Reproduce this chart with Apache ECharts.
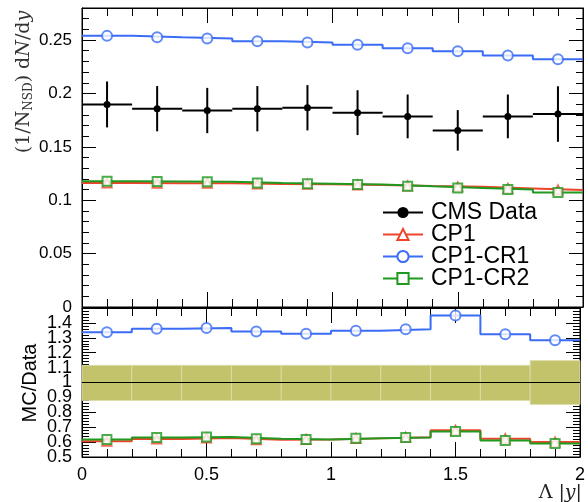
<!DOCTYPE html>
<html><head><meta charset="utf-8">
<script src="https://cdn.jsdelivr.net/npm/echarts@6/dist/echarts.min.js"></script>
<style>html,body{margin:0;padding:0;background:#fff}#c{width:588px;height:502px}</style>
</head><body><div id="c"></div>
<script>
// ---- data ----
const binEdges   = [0, 0.2, 0.4, 0.6, 0.8, 1.0, 1.2, 1.4, 1.6, 1.8, 2.0];
const binCentres = [0.1, 0.3, 0.5, 0.7, 0.9, 1.1, 1.3, 1.5, 1.7, 1.9];
const cmsData = [0.1897, 0.1857, 0.1840, 0.1857, 0.1866, 0.1820, 0.1785, 0.1654, 0.1785, 0.1807];
const cmsErr  = [0.0215, 0.0212, 0.0212, 0.0212, 0.0212, 0.0210, 0.0205, 0.0190, 0.0205, 0.0260];
const cp1     = [0.1162, 0.1160, 0.1160, 0.1152, 0.1150, 0.1143, 0.1133, 0.1125, 0.1110, 0.1095];
const cp1cr1  = [0.2539, 0.2526, 0.2514, 0.2489, 0.2477, 0.2455, 0.2424, 0.2396, 0.2355, 0.2320];
const cp1cr2  = [0.1178, 0.1175, 0.1172, 0.1162, 0.1155, 0.1147, 0.1130, 0.1115, 0.1100, 0.1072];
const ratioCp1 = [0.606, 0.620, 0.628, 0.615, 0.617, 0.625, 0.632, 0.680, 0.622, 0.600];
const ratioCr1 = [1.338, 1.360, 1.365, 1.343, 1.327, 1.347, 1.358, 1.450, 1.324, 1.284];
const ratioCr2 = [0.617, 0.631, 0.635, 0.622, 0.617, 0.626, 0.631, 0.671, 0.611, 0.590];
const bandUp  = [1.115, 1.115, 1.115, 1.115, 1.115, 1.115, 1.115, 1.115, 1.115, 1.147];
const bandLow = [0.880, 0.880, 0.880, 0.880, 0.880, 0.880, 0.880, 0.880, 0.880, 0.853];
const xTickLabels = ['0', '0.5', '1', '1.5', '2'];
const topYTickLabels = ['0', '0.05', '0.1', '0.15', '0.2', '0.25'];
const ratioYTickLabels = ['0.6','0.7','0.8','0.9','1','1.1','1.2','1.3','1.4'];
const ratioYMinLabel = ['0.5'];
const seriesNames = ['CMS Data', 'CP1', 'CP1-CR1', 'CP1-CR2'];

// ---- styling ----
const RED = '#f0442a', BLUE = '#3a6cf6', GREEN = '#1f991f', BLACK = '#000';
const FONT = 'Liberation Sans';
const LEGEND_ROW_CENTRES = [212, 234, 256, 278];

function steps(vals) {
  const pts = [];
  vals.forEach((v, i) => { pts.push([binEdges[i], v]); pts.push([binEdges[i + 1], v]); });
  return pts;
}
function centrePts(vals) { return binCentres.map((x, i) => [x, vals[i]]); }

const chart = echarts.init(document.getElementById('c'), null, {renderer: 'canvas'});

function xAxisDef(grid, pos, showLabel) {
  return {
    type: 'value', gridIndex: grid, position: pos, min: 0, max: 2, interval: 0.5,
    axisLine: {show: true, onZero: false, lineStyle: {color: BLACK, width: 1}},
    axisTick: {show: true, inside: true, length: 15, lineStyle: {color: BLACK}},
    minorTick: {show: true, splitNumber: 5, length: 8, lineStyle: {color: BLACK}},
    splitLine: {show: false},
    axisLabel: {show: showLabel, color: BLACK, fontFamily: FONT, fontSize: 18, margin: 9,
      showMinLabel: true, showMaxLabel: true,
      formatter: v => { const s = String(+v.toFixed(2)); return xTickLabels.includes(s) ? s : ''; }}
  };
}
function yAxisDef(grid, pos, min, max, interval, labels, showLabel, fs, minorN) {
  return {
    type: 'value', gridIndex: grid, position: pos, min: min, max: max, interval: interval,
    axisLine: {show: true, onZero: false, lineStyle: {color: BLACK, width: 1}},
    axisTick: {show: true, inside: true, length: 14, lineStyle: {color: BLACK}},
    minorTick: {show: true, splitNumber: minorN, length: 7, lineStyle: {color: BLACK}},
    splitLine: {show: false},
    axisLabel: {show: showLabel, color: BLACK, fontFamily: FONT, fontSize: fs, margin: 10,
      hideOverlap: false,
      formatter: v => { const s = String(+v.toFixed(2)); return labels.includes(s) ? s : ''; }}
  };
}
// an extra left axis that only carries the lowest ratio label
function labelOnlyAxis(grid, min, max, interval, labels, fs) {
  const a = yAxisDef(grid, 'left', min, max, interval, labels, true, fs, 5);
  a.axisLine = {show: false};
  a.axisTick = {show: false};
  a.minorTick = {show: false};
  a.axisLabel.showMinLabel = true;
  return a;
}

function stepSeries(name, vals, color, symbol, xi, yi) {
  return {type: 'line', name: name, data: steps(vals), xAxisIndex: xi, yAxisIndex: yi,
    symbol: symbol, showSymbol: false, symbolSize: 9, color: color,
    lineStyle: {color: color, width: 2}, itemStyle: {color: color}, silent: true, z: 3};
}
function markerSeries(vals, color, symbol, size, xi, yi) {
  return {type: 'scatter', name: '_m', data: centrePts(vals), xAxisIndex: xi, yAxisIndex: yi,
    symbol: symbol, symbolSize: size, itemStyle: {color: color, borderColor: color, borderWidth: 1.2},
    silent: true, z: 4};
}
function legendRow(i, extra) {
  return Object.assign({
    orient: 'vertical', left: 382, top: LEGEND_ROW_CENTRES[i] - 11, padding: 0,
    itemWidth: 40, itemHeight: 14, itemGap: 0, selectedMode: false,
    textStyle: {color: BLACK, fontFamily: FONT, fontSize: 23, lineHeight: 22, padding: [0, 0, 0, 3]},
    data: [{name: seriesNames[i]}]
  }, extra || {});
}

const errData = binCentres.map((c, i) => [binEdges[i], binEdges[i + 1], c, cmsData[i], cmsErr[i]]);
const bandData = binCentres.map((c, i) => [binEdges[i], binEdges[i + 1], bandLow[i], bandUp[i]]);

const option = {
  animation: false,
  backgroundColor: '#fff',
  grid: [
    {left: 82, right: 5, top: 8, height: 299, show: true, borderColor: BLACK, borderWidth: 1, backgroundColor: 'transparent'},
    {left: 82, right: 5, top: 308, bottom: 45, show: true, borderColor: BLACK, borderWidth: 1, backgroundColor: 'transparent'}
  ],
  xAxis: [
    xAxisDef(0, 'bottom', false),
    xAxisDef(0, 'top', false),
    xAxisDef(1, 'bottom', true),
    xAxisDef(1, 'top', false)
  ],
  yAxis: [
    yAxisDef(0, 'left', 0, 0.28, 0.05, topYTickLabels, true, 17, 5),
    yAxisDef(0, 'right', 0, 0.28, 0.05, topYTickLabels, false, 17, 5),
    yAxisDef(1, 'left', 0.5, 1.5, 0.1, ratioYTickLabels, true, 18, 5),
    yAxisDef(1, 'right', 0.5, 1.5, 0.1, ratioYTickLabels, false, 18, 5),
    labelOnlyAxis(1, 0.5, 1.5, 0.5, ratioYMinLabel, 18)
  ],
  legend: [
    legendRow(0, {data: [{name: seriesNames[0], lineStyle: {color: BLACK, width: 2, opacity: 1}}]}),
    legendRow(1), legendRow(2), legendRow(3)
  ],
  graphic: [
    {type: 'text', x: 24, y: 82, rotation: Math.PI / 2, silent: true,
      style: {
        text: '{a|(1/N}{s|NSD}{a|) d}{i|N}{a|/d}{i|y}',
        align: 'center', verticalAlign: 'middle', textAlign: 'center', textVerticalAlign: 'middle',
        fill: '#333',
        rich: {
          a: {fontFamily: 'DejaVu Serif', fontSize: 19, fill: '#333', color: '#333'},
          i: {fontFamily: 'DejaVu Serif', fontStyle: 'italic', fontSize: 19, fill: '#333', color: '#333'},
          s: {fontFamily: 'DejaVu Serif', fontSize: 12, fill: '#333', color: '#333', padding: [9, 0, 0, 0]}
        }
      }},
    {type: 'text', x: 30, y: 383, rotation: Math.PI / 2, silent: true,
      style: {text: 'MC/Data', fontFamily: FONT, fontSize: 20, fill: BLACK,
        align: 'center', verticalAlign: 'middle', textAlign: 'center', textVerticalAlign: 'middle'}},
    {type: 'text', x: 582, y: 493, silent: true,
      style: {
        text: '{a|Λ |}{i|y}{a||}',
        align: 'right', verticalAlign: 'middle', textAlign: 'right', textVerticalAlign: 'middle',
        rich: {
          a: {fontFamily: 'DejaVu Serif', fontSize: 19, fill: '#222', color: '#222'},
          i: {fontFamily: 'DejaVu Serif', fontStyle: 'italic', fontSize: 19, fill: '#222', color: '#222'}
        }
      }}
  ],
  series: [
    // top panel
    stepSeries(seriesNames[1], cp1, RED, 'emptyTriangle', 0, 0),
    stepSeries(seriesNames[3], cp1cr2, GREEN, 'emptyRect', 0, 0),
    stepSeries(seriesNames[2], cp1cr1, BLUE, 'emptyCircle', 0, 0),
    markerSeries(cp1, RED, 'emptyTriangle', 9, 0, 0),
    markerSeries(cp1cr2, GREEN, 'emptyRect', 9, 0, 0),
    markerSeries(cp1cr1, BLUE, 'emptyCircle', 10, 0, 0),
    {
      type: 'custom', name: '_err', xAxisIndex: 0, yAxisIndex: 0, data: errData, silent: true, z: 5,
      encode: {x: [0, 1, 2], y: [3]},
      renderItem: (params, api) => {
        const lo = api.value(0), hi = api.value(1), c = api.value(2), v = api.value(3), e = api.value(4);
        const p1 = api.coord([lo, v]), p2 = api.coord([hi, v]);
        const p3 = api.coord([c, v - e]), p4 = api.coord([c, v + e]);
        return {type: 'group', children: [
          {type: 'line', shape: {x1: p1[0], y1: p1[1], x2: p2[0], y2: p2[1]}, style: {stroke: BLACK, lineWidth: 2}},
          {type: 'line', shape: {x1: p3[0], y1: p3[1], x2: p4[0], y2: p4[1]}, style: {stroke: BLACK, lineWidth: 2}}
        ]};
      }
    },
    {type: 'line', name: seriesNames[0], data: centrePts(cmsData), xAxisIndex: 0, yAxisIndex: 0,
      symbol: 'circle', symbolSize: 7, color: BLACK, itemStyle: {color: BLACK},
      lineStyle: {color: BLACK, width: 2, opacity: 0}, silent: true, z: 6},
    // ratio panel
    {
      type: 'custom', name: '_band', xAxisIndex: 2, yAxisIndex: 2, data: bandData, silent: true, z: 1,
      encode: {x: [0, 1], y: [2, 3]},
      renderItem: (params, api) => {
        const lo = api.value(0), hi = api.value(1), d = api.value(2), u = api.value(3);
        const a = api.coord([lo, u]), b = api.coord([hi, d]);
        return {type: 'rect', shape: {x: a[0], y: a[1], width: b[0] - a[0], height: b[1] - a[1]},
          style: {fill: '#c3c36b', stroke: '#dcdcaa', lineWidth: 0.8}};
      },
      markLine: {silent: true, symbol: 'none', label: {show: false},
        lineStyle: {color: BLACK, width: 1, type: 'solid'}, data: [{yAxis: 1}]}
    },
    stepSeries('_r1', ratioCp1, RED, 'emptyTriangle', 2, 2),
    stepSeries('_r3', ratioCr2, GREEN, 'emptyRect', 2, 2),
    stepSeries('_r2', ratioCr1, BLUE, 'emptyCircle', 2, 2),
    markerSeries(ratioCp1, RED, 'emptyTriangle', 9, 2, 2),
    markerSeries(ratioCr2, GREEN, 'emptyRect', 9, 2, 2),
    markerSeries(ratioCr1, BLUE, 'emptyCircle', 10, 2, 2)
  ]
};
chart.setOption(option);
</script>
</body></html>
